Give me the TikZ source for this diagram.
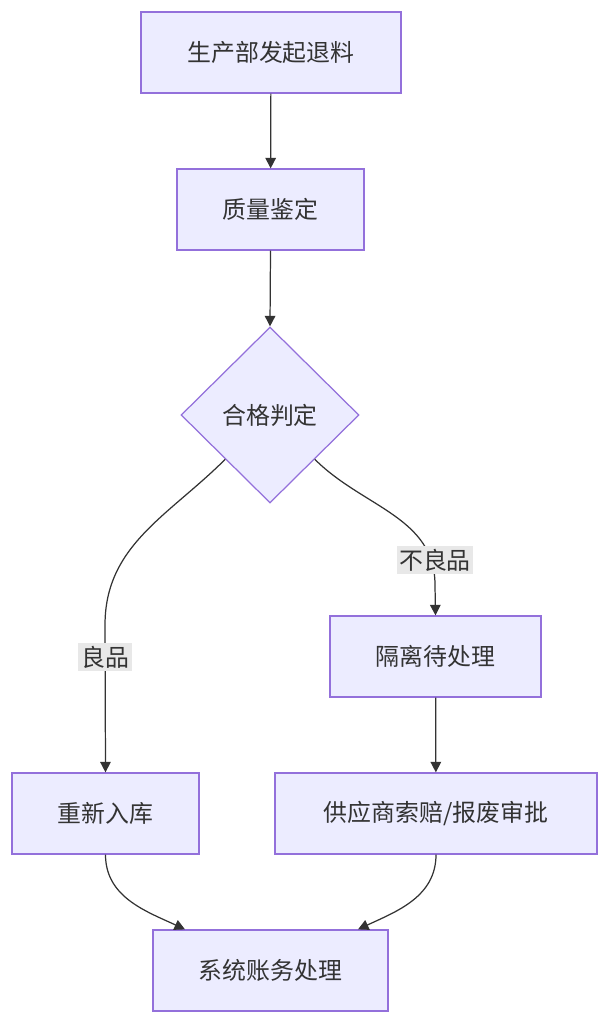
\documentclass[tikz,border=0pt]{standalone}
\usepackage{fontspec}
\setmainfont{Noto Sans CJK SC}
\usepackage{tikz}
\usetikzlibrary{shapes.geometric,arrows.meta,positioning}
\definecolor{boxfill}{HTML}{ECECFF}
\definecolor{boxline}{HTML}{9370DB}
\definecolor{ink}{HTML}{333333}
\definecolor{lblbg}{HTML}{E8E8E8}
\tikzset{
  proc/.style={rectangle, draw=boxline, fill=boxfill, line width=0.7pt,
    minimum height=1.62cm, text=ink, font=\fontsize{13.6pt}{16pt}\selectfont},
  decide/.style={diamond, draw=boxline, fill=boxfill, line width=0.7pt,
    minimum width=3.56cm, minimum height=3.52cm, inner sep=0pt,
    text=ink, font=\fontsize{13.6pt}{16pt}\selectfont},
  flow/.style={draw=ink, line width=0.7pt, -{Triangle[length=6pt,width=6pt]}},
  lbl/.style={fill=lblbg, text=ink, inner sep=1.5pt,
    font=\fontsize{13.6pt}{16pt}\selectfont}
}
\begin{document}
\begin{tikzpicture}[x=0.02cm, y=-0.02cm]
  \useasboundingbox (0,0) rectangle (609,1024);
  % nodes
  \node[proc, minimum width=5.2cm] (start) at (271,52.5) {生产部发起退料};
  \node[proc, minimum width=3.74cm] (check) at (270.5,209.5) {质量鉴定};
  \node[decide] (judge) at (270,415) {合格判定};
  \node[proc, minimum width=4.22cm] (isolate) at (435.5,656.5) {隔离待处理};
  \node[proc, minimum width=3.74cm] (restock) at (105.5,813.5) {重新入库};
  \node[proc, minimum width=6.44cm] (claim) at (436,813.5) {供应商索赔/报废审批};
  \node[proc, minimum width=4.7cm] (account) at (270.5,970.5) {系统账务处理};
  % connectors
  \draw[flow] (judge.south west) to[out=-135, in=90] (105,625) -- (restock.north);
  \node[lbl] (good) at (105,657) {良品};
  \draw[flow] (judge.south east) to[out=-45, in=90] (435,585) -- (isolate.north);
  \node[lbl] (bad) at (435,560) {不良品};
  \draw[flow] (start) -- (check);
  \draw[flow] (check.south) -- (judge.north);
  \draw[flow] (isolate) -- (claim);
  \draw[flow] (restock.south) to[out=-90, in=155] ([xshift=-1.71cm]account.north);
  \draw[flow] (claim.south) to[out=-90, in=25] ([xshift=1.75cm]account.north);
\end{tikzpicture}
\end{document}
